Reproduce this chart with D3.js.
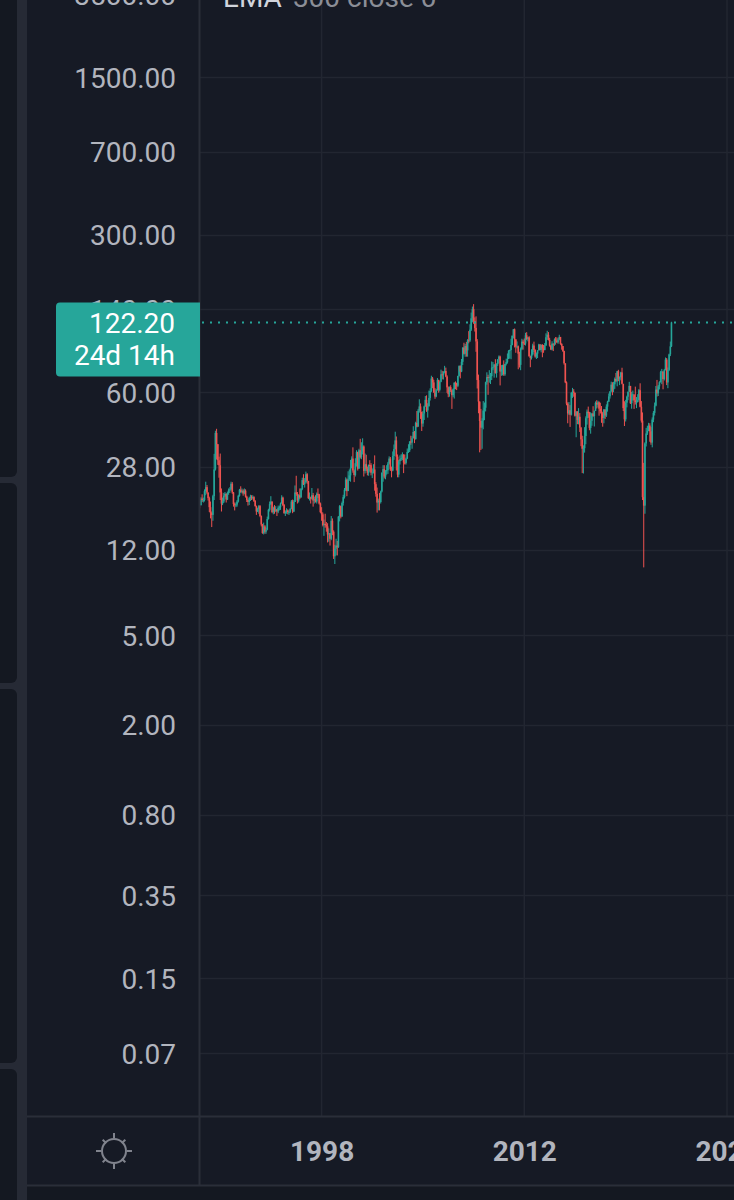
<!DOCTYPE html>
<html><head><meta charset="utf-8">
<script src="https://cdn.jsdelivr.net/npm/d3@7"></script>
<style>html,body{margin:0;padding:0;background:#161a25;overflow:hidden}</style>
</head><body><svg id="c" width="734" height="1200"></svg>
<script>
// ---- DATA (monthly candles, Jul 1989 .. Mar 2022) ----
const firstMonth = "1989-07";
const firstOpen = 20.3;
const closes = [
 19.9,18.9,20.2,19.9,19.9,21.8,
 22.7,21.5,20.3,18.5,17.4,17.1,20.7,27.2,39.5,35.2,29.9,28.4,
 21.5,19.2,19.6,20.8,21.2,20.0,21.4,22.0,22.2,23.5,21.5,19.1,
 18.9,19.0,19.6,20.8,22.1,21.6,21.9,21.3,21.9,20.6,19.9,19.5,
 20.3,20.5,20.3,20.5,19.7,18.7,17.7,18.2,18.7,16.9,15.5,14.2,
 15.2,14.4,14.7,16.4,18.0,19.1,19.6,17.6,18.4,17.8,18.1,17.7,
 18.4,18.5,19.2,20.4,18.9,17.4,17.6,17.9,17.6,17.6,18.2,19.6,
 17.7,19.5,21.5,21.2,19.8,20.9,20.4,22.3,24.4,23.4,23.8,25.9,
 24.2,20.3,20.4,20.2,20.9,19.8,20.1,19.6,21.2,21.1,19.2,17.6,
 17.2,15.4,15.6,15.4,15.2,14.0,14.2,13.4,16.1,14.4,11.2,12.1,
 12.5,12.3,16.8,18.7,16.8,19.3,20.5,22.1,24.5,21.8,24.6,25.6,
 27.6,30.4,26.9,25.7,29.0,32.5,27.4,33.1,30.8,32.7,34.4,26.8,
 28.7,27.4,26.3,28.5,28.4,26.3,26.4,27.2,23.4,21.2,19.4,19.8,
 19.5,21.7,26.3,27.3,25.3,26.9,27.0,28.9,30.4,27.2,26.9,31.2,
 33.5,36.6,31.0,25.8,29.6,30.2,30.5,31.6,29.2,29.1,30.4,32.5,
 33.1,36.2,35.8,37.4,39.9,37.1,43.8,42.1,49.6,51.8,49.1,43.5,
 48.2,51.8,55.4,49.7,52.0,56.5,60.6,68.9,66.2,59.8,57.3,61.0,
 67.9,61.4,66.6,71.9,71.3,73.9,74.4,70.3,62.9,58.7,63.1,61.1,
 58.1,61.8,65.9,65.7,64.0,70.7,78.2,74.0,81.7,94.5,88.7,96.0,
 91.8,101.8,101.6,113.5,127.4,140.0,124.1,115.5,100.6,67.8,54.4,44.6,
 41.7,44.8,49.7,51.1,66.3,69.9,69.5,70.0,70.6,77.0,77.3,79.4,
 72.9,79.7,83.8,86.2,74.0,75.6,79.0,71.9,80.0,81.4,84.1,91.4,
 92.2,97.0,106.7,113.9,102.7,95.4,95.7,88.8,79.2,93.2,100.4,98.8,
 98.5,107.1,103.0,104.9,86.5,85.0,88.1,96.5,92.2,86.2,88.9,91.8,
 97.5,92.1,97.2,93.5,92.0,96.6,105.0,107.7,102.3,96.4,92.7,98.4,
 97.5,102.6,101.6,99.7,102.7,105.4,98.2,96.0,91.2,80.5,66.2,53.3,
 48.2,49.8,47.6,59.6,60.3,59.5,47.1,49.2,45.1,46.6,41.7,37.0,
 33.6,33.8,38.3,45.9,49.1,48.3,41.6,44.7,48.2,46.9,49.4,53.7,
 52.8,54.0,50.6,49.3,48.3,46.0,50.2,47.2,51.7,54.4,57.4,60.4,
 64.7,61.6,64.9,68.6,67.0,74.2,68.8,69.8,73.3,65.3,50.9,45.4,
 53.8,57.2,60.1,63.9,53.5,58.5,58.6,55.1,54.1,54.2,55.2,61.1,
 51.6,44.8,20.5,18.8,35.5,39.3,40.3,42.6,40.2,35.8,45.3,48.5,
 52.2,61.5,59.2,63.6,66.3,73.5,74.0,68.5,75.0,83.6,66.2,75.2,
 88.2,95.7,122.2
];
const highs = [
 20.9,20.3,20.5,21.1,20.4,22.2,
 24.0,23.2,21.5,20.6,19.6,17.7,21.0,31.9,40.4,41.2,35.3,31.0,
 32.0,22.4,20.4,21.4,21.6,21.3,21.7,22.4,22.7,24.0,23.9,21.6,
 19.4,19.4,19.9,21.0,22.3,22.9,22.4,22.2,22.4,22.2,20.8,20.0,
 20.6,21.0,20.9,20.9,20.7,19.9,18.8,18.4,18.9,18.9,17.0,15.6,
 15.8,15.4,15.0,16.8,18.2,19.6,20.7,19.6,18.6,18.9,18.7,18.1,
 18.8,18.8,19.4,20.9,20.6,19.1,17.9,18.3,18.1,17.9,18.3,19.9,
 20.0,19.9,23.1,25.5,21.6,21.1,22.4,22.5,25.0,25.9,24.9,26.6,
 26.2,24.2,21.5,20.6,22.5,21.4,20.6,20.9,21.5,22.4,21.2,19.4,
 18.5,17.5,16.3,17.3,15.9,15.7,14.9,14.0,16.9,16.5,14.6,12.6,
 13.4,13.1,16.9,18.9,18.8,19.6,21.0,22.5,25.1,24.8,26.7,27.2,
 30.0,31.1,34.1,27.2,30.5,33.1,32.6,33.6,37.2,35.9,37.4,34.8,
 32.0,31.6,28.0,28.6,29.9,29.0,27.5,28.7,31.4,23.9,22.6,20.2,
 21.4,21.9,26.4,28.4,28.4,27.0,28.4,29.4,31.1,30.9,28.0,32.7,
 35.1,40.0,38.1,31.7,30.0,31.4,31.8,32.4,31.8,31.7,30.7,33.7,
 35.2,36.3,38.4,38.2,42.3,40.3,44.3,49.4,50.5,55.7,53.4,46.6,
 49.4,52.2,57.6,58.0,53.5,60.9,62.3,70.9,70.0,67.9,62.4,61.9,
 69.2,68.0,67.0,75.4,74.5,74.1,78.4,77.0,71.2,63.5,63.5,64.3,
 61.5,62.3,66.4,66.9,66.0,70.9,78.8,78.8,84.1,94.7,99.3,98.2,
 100.1,103.0,111.8,119.9,135.1,143.7,147.3,128.6,130.0,103.0,71.7,54.6,
 50.5,45.9,54.7,53.9,66.7,73.4,71.6,75.0,72.9,82.0,81.5,80.0,
 83.9,80.5,83.9,87.2,87.0,79.0,79.3,82.9,80.0,84.4,89.0,92.1,
 92.6,103.4,106.9,114.2,114.8,103.0,100.6,96.5,90.5,94.6,103.4,102.4,
 103.7,109.9,110.6,105.2,106.2,87.0,92.9,98.3,100.4,92.9,89.9,92.0,
 98.2,97.8,97.4,97.8,97.0,99.0,109.3,112.2,110.7,104.4,97.0,100.8,
 98.5,103.8,105.2,104.9,104.2,107.7,105.1,98.7,95.9,91.5,80.3,66.9,
 54.0,54.2,52.5,59.9,62.6,61.8,59.7,49.3,49.3,50.9,48.4,42.0,
 38.4,34.8,41.9,46.8,50.2,51.7,49.0,48.8,48.3,51.9,49.7,54.5,
 55.2,54.9,54.5,53.8,52.0,48.9,50.4,50.2,52.9,54.9,59.1,60.5,
 66.7,66.3,66.6,69.6,72.9,74.5,75.3,70.4,73.8,76.9,65.0,54.6,
 55.4,57.8,60.4,66.6,63.8,60.1,60.9,57.9,63.4,57.0,58.7,61.9,
 65.6,54.7,48.7,29.1,35.9,41.6,42.5,43.8,43.6,41.9,46.3,49.4,
 53.9,63.8,67.9,64.5,67.0,74.5,76.0,74.0,76.0,85.4,84.9,77.1,
 88.8,100.5,123.0
];
const lows = [
 19.1,18.3,18.8,19.5,19.4,19.6,
 20.9,21.2,19.8,17.6,16.5,15.1,16.1,19.9,26.9,30.1,28.5,25.0,
 19.9,17.7,18.9,19.3,20.5,19.4,19.9,21.0,21.4,21.9,21.2,18.6,
 17.9,18.5,18.6,19.4,20.6,21.4,21.3,20.8,21.1,20.4,19.5,18.8,
 18.9,19.7,19.9,20.0,19.5,18.6,17.1,17.6,17.3,16.7,15.2,14.1,
 14.0,14.1,14.1,14.6,16.3,17.7,18.9,17.4,17.2,17.3,17.6,16.9,
 17.4,17.9,18.0,19.2,18.7,17.3,16.9,17.3,17.2,17.1,17.4,18.1,
 17.4,17.6,19.5,20.8,19.2,19.4,20.1,20.5,22.0,23.2,22.6,23.8,
 23.5,20.1,19.8,19.2,20.0,18.6,19.2,19.4,19.2,20.3,19.0,17.4,
 16.1,15.2,13.8,15.0,14.4,12.9,13.0,12.5,13.2,13.9,10.9,10.35,
 11.3,11.3,12.2,16.0,16.5,16.8,18.8,20.2,21.8,20.7,21.9,24.2,
 24.0,27.5,26.3,23.9,25.3,28.0,26.9,27.5,30.4,30.2,31.7,25.3,
 26.1,26.8,25.6,25.5,26.6,25.6,24.9,26.1,21.9,20.6,17.5,17.9,
 17.9,19.2,21.5,24.0,24.8,24.6,25.8,26.0,28.6,26.8,25.1,26.7,
 30.0,33.4,26.9,25.1,25.1,28.6,29.7,29.9,26.2,28.6,28.6,30.2,
 32.2,32.5,35.0,33.6,37.5,35.6,36.9,41.8,42.2,48.6,45.6,40.3,
 42.1,45.1,51.6,49.0,46.2,51.6,55.0,59.9,62.4,59.5,56.0,56.9,
 61.0,59.6,60.4,66.3,68.3,68.2,72.6,69.8,59.5,56.9,57.2,60.0,
 50.5,56.9,56.1,61.7,61.2,63.1,70.2,69.0,73.5,79.1,88.0,86.0,
 86.1,86.1,98.7,100.1,111.9,122.3,120.4,111.3,90.5,62.2,48.3,32.4,
 33.2,33.6,41.0,45.0,49.2,64.7,58.3,66.0,65.1,67.8,75.0,69.5,
 72.4,69.5,78.3,80.5,64.2,70.8,71.1,70.8,70.8,78.7,80.2,84.4,
 84.6,83.9,96.6,103.8,94.6,89.6,93.7,75.7,77.1,75.0,92.0,92.5,
 97.0,96.5,102.0,100.7,86.1,77.3,83.6,87.1,90.3,85.2,84.1,84.9,
 91.8,92.0,90.0,85.6,89.6,92.6,96.1,102.2,101.6,95.4,92.1,91.8,
 91.2,96.2,97.4,99.2,98.2,101.8,97.2,92.5,90.4,79.4,65.7,52.4,
 43.6,47.4,42.0,47.2,56.5,57.2,46.7,37.8,43.2,43.1,39.9,34.5,
 26.2,26.1,32.3,35.2,43.0,46.1,40.6,39.2,42.5,46.6,42.2,49.9,
 50.7,51.2,47.1,48.2,43.8,42.1,43.6,45.6,46.5,49.1,54.2,56.1,
 59.8,58.1,59.9,62.0,66.3,63.6,67.0,64.4,67.6,64.9,49.4,42.4,
 44.4,51.3,55.2,60.5,53.1,50.6,55.0,50.5,52.8,50.9,54.0,55.0,
 51.3,43.9,19.9,10.0,17.3,34.4,38.7,40.2,36.1,35.0,34.1,44.1,
 47.2,51.8,57.3,57.6,61.6,66.1,65.0,61.7,67.5,74.9,64.4,62.4,
 74.3,86.6,95.0
];
const priceTicks = [3500,1500,700,300,140,60,28,12,5,2,0.8,0.35,0.15,0.07];
const yearTicks = [1998,2012,2026];
const lastPrice = 122.20;
const countdown = "24d 14h";
const legendName = "EMA";
const legendArgs = "300 close 0";

// ---- LAYOUT ----
const W = 734, H = 1200;
const plotL = 200, plotR = 734, plotB = 1116;
const FONT = "Roboto, 'Noto Sans', 'DejaVu Sans', sans-serif";
const col = {bg:"#161a25", bar:"#262a35", line:"#2a2e39", grid:"#222631",
  text:"#b2b5be", up:"#26a69a", down:"#ef5350"};

const svg = d3.select("#c");
const y = d3.scaleLog().domain([1500, 0.07]).range([77, 1053]);
const x = d3.scaleTime().domain([new Date(1998,0,1), new Date(2012,0,1)]).range([321.6, 524.3]);

svg.append("rect").attr("width",W).attr("height",H).attr("fill",col.bg);

// left tool strip
svg.append("rect").attr("x",0).attr("y",0).attr("width",27).attr("height",H).attr("fill",col.bar);
[[-20,477],[483,683],[689,1063],[1069,1230]].forEach(([a,b])=>{
  svg.append("rect").attr("x",-10).attr("y",a).attr("width",27).attr("height",b-a)
    .attr("rx",6).attr("fill","#141821");
});
svg.append("rect").attr("x",27).attr("y",0).attr("width",W-27).attr("height",H).attr("fill",col.bg);
svg.append("rect").attr("x",27).attr("y",1186).attr("width",W-27).attr("height",14).attr("fill","#141821");

// clip for plot
svg.append("defs").append("clipPath").attr("id","pc")
  .append("rect").attr("x",plotL).attr("y",0).attr("width",plotR-plotL).attr("height",plotB);
const plot = svg.append("g").attr("clip-path","url(#pc)");

// grid
plot.selectAll(".hg").data(priceTicks).join("line")
  .attr("x1",plotL).attr("x2",plotR)
  .attr("y1",d=>Math.round(y(d))+0.5).attr("y2",d=>Math.round(y(d))+0.5)
  .attr("stroke",col.grid).attr("stroke-width",1.5);
plot.selectAll(".vg").data(yearTicks).join("line")
  .attr("x1",d=>x(new Date(d,0,1))).attr("x2",d=>x(new Date(d,0,1)))
  .attr("y1",0).attr("y2",plotB)
  .attr("stroke",col.grid).attr("stroke-width",1.5);

// candles
const start = d3.timeParse("%Y-%m")(firstMonth);
const candles = closes.map((c,i)=>({
  t: d3.timeMonth.offset(start, i),
  o: i === 0 ? firstOpen : closes[i-1],   // open = previous month's close
  h: highs[i], l: lows[i], c
}));
const cg = plot.append("g");
cg.selectAll("line").data(candles).join("line")
  .attr("x1",d=>x(d.t)).attr("x2",d=>x(d.t))
  .attr("y1",d=>y(d.h)).attr("y2",d=>y(d.l))
  .attr("stroke",d=>d.c>=d.o?col.up:col.down).attr("stroke-width",1);
cg.selectAll("rect").data(candles).join("rect")
  .attr("x",d=>x(d.t)-0.8).attr("width",1.6)
  .attr("y",d=>y(Math.max(d.o,d.c)))
  .attr("height",d=>Math.max(1,Math.abs(y(d.o)-y(d.c))))
  .attr("fill",d=>d.c>=d.o?col.up:col.down);

// last price dotted line
plot.append("line").attr("x1",plotL+2).attr("x2",plotR)
  .attr("y1",y(lastPrice)).attr("y2",y(lastPrice))
  .attr("stroke",col.up).attr("stroke-width",2).attr("stroke-dasharray","2 6");

// panel borders
svg.append("line").attr("x1",199.5).attr("x2",199.5).attr("y1",0).attr("y2",1185)
  .attr("stroke",col.line).attr("stroke-width",2);
svg.append("line").attr("x1",27).attr("x2",W).attr("y1",1116.5).attr("y2",1116.5)
  .attr("stroke",col.line).attr("stroke-width",2);
svg.append("line").attr("x1",27).attr("x2",W).attr("y1",1185.5).attr("y2",1185.5)
  .attr("stroke",col.line).attr("stroke-width",2);

// price axis
const ya = svg.append("g").attr("transform","translate(176,0)")
  .call(d3.axisLeft(y).tickValues(priceTicks).tickFormat(d3.format(".2f")).tickSize(0).tickPadding(0));
ya.select(".domain").remove();
ya.selectAll("text").attr("fill",col.text).style("font-family",FONT).style("font-size","28px").attr("dy","0.36em");

// time axis
const xa = svg.append("g").attr("transform","translate(0,1151)")
  .call(d3.axisBottom(x).tickValues(yearTicks.map(v=>new Date(v,0,1))).tickFormat(d3.timeFormat("%Y")).tickSize(0).tickPadding(0));
xa.select(".domain").remove();
xa.selectAll("text").attr("fill",col.text).attr("y",0).attr("dy","0.36em")
  .style("font-family",FONT).style("font-size","28px").style("font-weight","700");

// legend (cut at top)
const lg = svg.append("text").attr("x",223).attr("y",7).style("font-family",FONT).style("font-size","28px");
lg.append("tspan").attr("fill","#d1d4dc").text(legendName);
lg.append("tspan").attr("fill","#8b8e97").attr("dx",11).text(legendArgs);

// last price label
const ly = y(lastPrice);
svg.append("path")
  .attr("d",`M${200},${ly-20} H${60} a4,4 0 0 0 -4,4 V${ly+50} a4,4 0 0 0 4,4 H${200} Z`)
  .attr("fill",col.up);
svg.append("text").attr("x",175).attr("y",ly+11).attr("text-anchor","end")
  .attr("fill","#ffffff").style("font-family",FONT).style("font-size","28px")
  .text(d3.format(".2f")(lastPrice));
svg.append("text").attr("x",175).attr("y",ly+43).attr("text-anchor","end")
  .attr("fill","#ffffff").style("font-family",FONT).style("font-size","28px")
  .text(countdown);

// sun icon
const sun = svg.append("g").attr("transform","translate(114,1151)")
  .attr("stroke","#80838d").attr("stroke-width",2).attr("fill","none");
sun.append("circle").attr("r",12);
d3.range(8).forEach(k=>{
  const a = k*Math.PI/4;
  const r1 = k%2===0 ? 13 : 11, r2 = k%2===0 ? 18 : 16;
  sun.append("line").attr("x1",Math.sin(a)*r1).attr("y1",-Math.cos(a)*r1)
    .attr("x2",Math.sin(a)*r2).attr("y2",-Math.cos(a)*r2);
});
</script></body></html>
